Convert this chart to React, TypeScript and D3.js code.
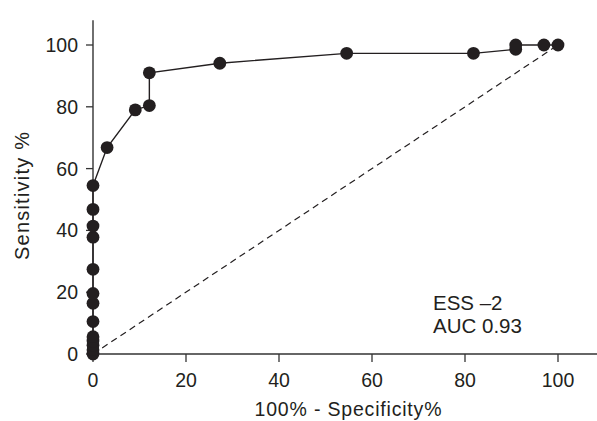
import React from 'react';
import * as d3 from 'd3';

// ROC curve points (100% - specificity, sensitivity)
const fpr = [0, 0, 0, 0, 0, 0, 0, 0, 0, 0, 0, 0, 0, 3.03, 9.09, 12.12, 12.12, 27.27, 54.55, 81.82, 90.91, 90.91, 96.97, 100];
const tpr = [0, 1.4, 2.8, 4.2, 5.6, 10.5, 16.4, 19.6, 27.4, 37.8, 41.4, 46.8, 54.5, 66.8, 79.0, 80.4, 91.0, 94.1, 97.3, 97.3, 98.6, 100, 100, 100];
const xTicks = [0, 20, 40, 60, 80, 100];
const yTicks = [0, 20, 40, 60, 80, 100];
const notes = ['ESS \u20132', 'AUC 0.93'];

const W = 597;
const H = 421;
const font = '"Liberation Sans", Arial, Helvetica, sans-serif';
const ink = '#231f20';

const App = () => {
  const x = d3.scaleLinear().domain([0, 100]).range([93, 558]);
  const y = d3.scaleLinear().domain([0, 100]).range([354, 45]);

  const pts = fpr.map((f, i) => ({ f, t: tpr[i] }));
  const line = d3
    .line<{ f: number; t: number }>()
    .x((d) => x(d.f))
    .y((d) => y(d.t));

  return (
    <svg
      width={W}
      height={H}
      style={{ position: 'absolute', left: 0, top: 0, background: '#fff' }}
      fontFamily={font}
    >
      {/* chance line */}
      <line
        x1={x(0)}
        y1={y(0)}
        x2={x(100)}
        y2={y(100)}
        stroke={ink}
        strokeWidth={1.2}
        strokeDasharray="6.5,4.5"
      />

      {/* axes */}
      <line x1={x(0)} x2={x(109)} y1={y(0)} y2={y(0)} stroke="#333" strokeWidth={1.4} />
      <line x1={x(0)} x2={x(0)} y1={y(0)} y2={y(108)} stroke="#333" strokeWidth={1.4} />
      {xTicks.map((t) => (
        <g key={'x' + t}>
          <line x1={x(t)} x2={x(t)} y1={y(0)} y2={y(0) + 8} stroke="#333" strokeWidth={1.3} />
          <text x={x(t)} y={387} textAnchor="middle" fontSize={19.5} fill={ink}>
            {t}
          </text>
        </g>
      ))}
      {yTicks.map((t) => (
        <g key={'y' + t}>
          <line x1={x(0) - 7} x2={x(0)} y1={y(t)} y2={y(t)} stroke="#333" strokeWidth={1.3} />
          <text x={78} y={y(t)} dy="0.36em" textAnchor="end" fontSize={19.5} fill={ink}>
            {t}
          </text>
        </g>
      ))}

      {/* ROC curve */}
      <path d={line(pts) || ''} fill="none" stroke={ink} strokeWidth={1.4} />
      {pts.map((d, i) => (
        <circle key={i} cx={x(d.f)} cy={y(d.t)} r={6.4} fill={ink} />
      ))}

      {/* labels */}
      <text x={348} y={416} textAnchor="middle" fontSize={19.5} fill={ink} textLength={187}>
        100% - Specificity%
      </text>
      <text
        transform="translate(29,196) rotate(-90)"
        textAnchor="middle"
        fontSize={20}
        fill={ink}
        textLength={128}
      >
        Sensitivity %
      </text>
      {notes.map((n, i) => (
        <text key={n} x={433} y={310 + i * 23} fontSize={20.5} fill={ink}>
          {n}
        </text>
      ))}
    </svg>
  );
};

export default App;
